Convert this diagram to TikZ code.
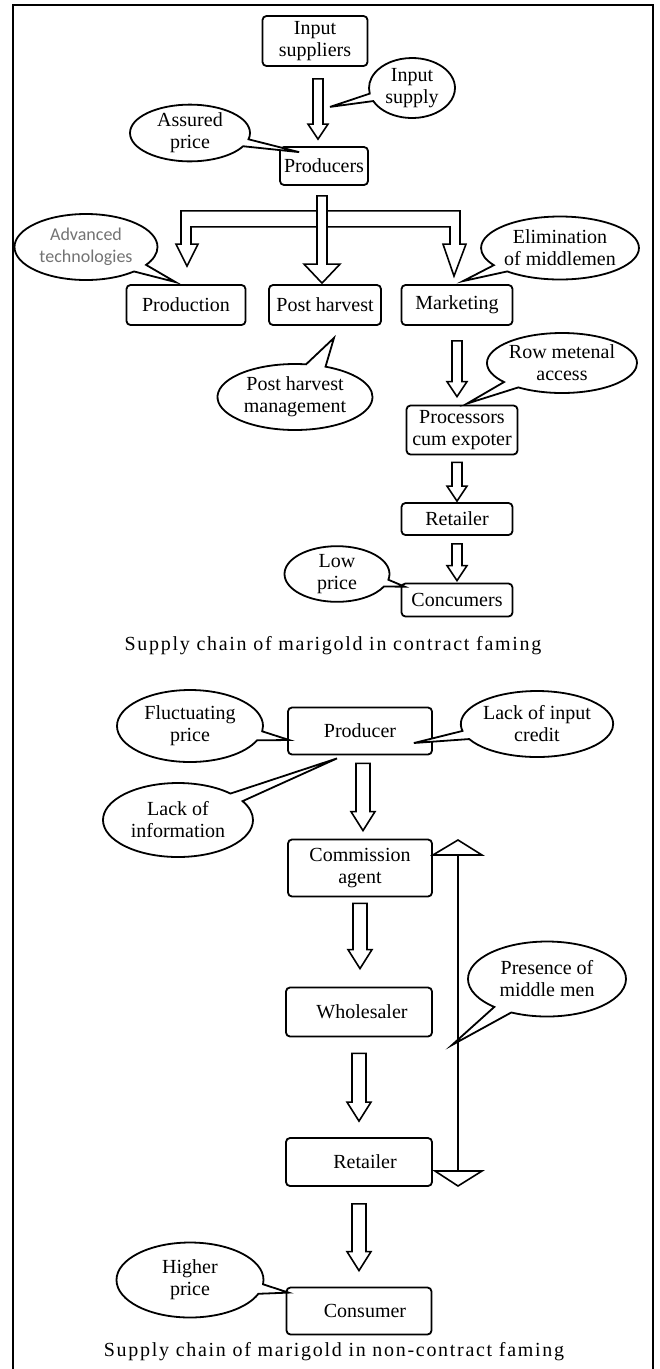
\documentclass[tikz,border=0pt]{standalone}
\usepackage{fontspec}
\setmainfont{Liberation Serif}
\newfontfamily\techfont{Carlito}
\newfontfamily\capfont[LetterSpace=8.5]{Liberation Serif}
\usetikzlibrary{calc}
\usetikzlibrary{shapes}
\usetikzlibrary{shapes.callouts}
\usetikzlibrary{positioning}

\tikzset{
  stage/.style={draw, line width=1.8pt, rounded corners=4pt, fill=white, inner sep=0pt,
    align=center, font=\fontsize{20}{22}\selectfont},
  remark/.style={ellipse callout, draw, line width=1.8pt, fill=white, inner sep=0pt,
    align=center, font=\fontsize{20}{22}\selectfont},
  flowarr/.style={draw, line width=1.6pt, fill=white, line join=miter},
  caption/.style={font=\capfont\fontsize{20}{22}\selectfont}
}

\def\shafthw{5}
\def\headhw{10}
\def\headlen{15}
\newcommand{\hollowarrow}[5][0]{%
  \draw[flowarr] let \p1=($(#2.south)+(#1pt,0)$), \p2=($(#3.north)+(#1pt,0)$) in
    (\x1-\shafthw pt,\y1-#4pt) -- (\x1-\shafthw pt,\y2+#5pt+\headlen pt)
    -- (\x1-\headhw pt,\y2+#5pt+\headlen pt) -- (\x1,\y2+#5pt)
    -- (\x1+\headhw pt,\y2+#5pt+\headlen pt) -- (\x1+\shafthw pt,\y2+#5pt+\headlen pt)
    -- (\x1+\shafthw pt,\y1-#4pt) -- cycle;}

\begin{document}
\begin{tikzpicture}[x=1pt,y=-1pt]
  \useasboundingbox (0,0) rectangle (660,1369);
  \draw[line width=2.5pt] (13,1369) -- (13,5) -- (653,5) -- (653,1369);

  % contract farming
  \node[stage, minimum width=105, minimum height=50] (inpsup) at (315,41) {Input\\suppliers};
  \node[stage, minimum width=88, minimum height=38] (prod) at (324,166) {Producers};
  \node[stage, minimum width=119, minimum height=40] (prodn) at (186,305) {Production};
  \node[stage, minimum width=112, minimum height=40] (post) at (325,305) {Post harvest};
  \node[stage, minimum width=111, minimum height=40] (mkt) at (457,305) {Marketing};
  \node[stage, minimum width=111, minimum height=49] (proc) at (462,430) {Processors\\cum expoter};
  \node[stage, minimum width=111, minimum height=32] (ret1) at (457,519) {Retailer};
  \node[stage, minimum width=111, minimum height=33] (cons1) at (457,600) {Concumers};

  \hollowarrow[3]{inpsup}{prod}{12}{7}
  \hollowarrow{mkt}{proc}{15}{8}
  \hollowarrow[-5]{proc}{ret1}{7}{1}
  \hollowarrow{ret1}{cons1}{8}{2}

  \draw[flowarr] let \p0=(prod.south), \p1=(prodn.north), \p3=(mkt.north) in
    (\x1-5pt,\y1+40pt) -- (\x1-5pt,\y0-25pt) -- (\x3+3pt,\y0-25pt) -- (\x3+3pt,\y3+40pt)
    -- (\x3+9pt,\y3+40pt) -- (\x3-3pt,\y3+8pt) -- (\x3-14pt,\y3+40pt) -- (\x3-7pt,\y3+40pt)
    -- (\x3-7pt,\y0-41pt) -- (\x1+5pt,\y0-41pt) -- (\x1+5pt,\y1+40pt) -- (\x1+12pt,\y1+40pt)
    -- (\x1+1pt,\y1+18pt) -- (\x1-10pt,\y1+40pt) -- cycle;
  \draw[flowarr] let \p0=(prod.south), \p2=(post.north) in
    (\x2-8pt,\y0-10pt) -- (\x2-8pt,\y2+20pt) -- (\x2-21pt,\y2+20pt) -- (\x2-3pt,\y2+1pt)
    -- (\x2+15pt,\y2+20pt) -- (\x2+2pt,\y2+20pt) -- (\x2+2pt,\y0-10pt) -- cycle;

  \node[remark, minimum width=86, minimum height=60,
    callout absolute pointer={($(inpsup.south)+(15,40)$)}] (inpsupply) at (412,88) {Input\\supply};
  \node[remark, minimum width=120, minimum height=54,
    callout absolute pointer={($(prod.north west)+(20,6)$)}] (assured) at (190,133) {Assured\\price};
  \node[remark, minimum width=143, minimum height=66, text=black!55,
    font=\techfont\fontsize{18}{22}\selectfont,
    callout absolute pointer={($(prodn.north west)+(50,-2)$)}] (advtech) at (86,247) {Advanced\\technologies};
  \node[remark, minimum width=150, minimum height=63,
    callout absolute pointer={($(mkt.north)+(6,-3)$)}] (elim) at (560,248) {Elimination\\of middlemen};
  \node[remark, minimum width=155, minimum height=66,
    callout absolute pointer={($(post.south)+(9,12)$)}] (phm) at (295,397) {Post harvest\\management};
  \node[remark, minimum width=147, minimum height=60,
    callout absolute pointer={($(proc.north)+(5,-1)$)}] (rowmat) at (562,363) {Row metenal\\access};
  \node[remark, minimum width=105, minimum height=52,
    callout absolute pointer={($(cons1.north west)+(4,4)$)}] (lowprice) at (337,574) {Low\\price};

  \node[caption] (cap1) at (333,646) {Supply chain of marigold in contract faming};

  % non-contract farming
  \node[stage, minimum width=144, minimum height=47] (producer) at (360,731) {Producer};
  \node[stage, minimum width=144, minimum height=57] (comm) at (360,868) {Commission\\agent};
  \node[stage, minimum width=146, minimum height=49] (whole) at (359,1012) {\hspace{6pt}Wholesaler};
  \node[stage, minimum width=146, minimum height=48] (ret2) at (359,1162) {\hspace{12pt}Retailer};
  \node[stage, minimum width=145, minimum height=47] (consumer) at (359,1311) {\hspace{12pt}Consumer};

  \def\shafthw{7}
  \def\headhw{12}
  \def\headlen{19}
  \hollowarrow[3]{producer}{comm}{8}{8}
  \hollowarrow{comm}{whole}{6}{18}
  \hollowarrow{whole}{ret2}{16}{16}
  \hollowarrow{ret2}{consumer}{17}{16}

  \coordinate (mtop) at (458,855);
  \coordinate (mbot) at (458,1171);
  \draw[line width=1.6pt] (mtop) -- (mbot);
  \draw[line width=1.6pt] (comm.east |- mtop) -- ($(mtop)+(0,-15)$) -- ($(mtop)+(24,0)$) -- cycle;
  \draw[line width=1.6pt] ($(mbot)+(-23,0)$) -- ($(mbot)+(0,15)$) -- ($(mbot)+(24,0)$) -- cycle;

  \node[remark, minimum width=146, minimum height=72,
    callout absolute pointer={($(producer.west)+(2,9)$)}] (fluct) at (190,726) {Fluctuating\\price};
  \node[remark, minimum width=150, minimum height=66,
    callout absolute pointer={($(producer.east)+(-19,12)$)}] (lackin) at (537,724) {Lack of input\\credit};
  \node[remark, minimum width=150, minimum height=74,
    callout absolute pointer={($(producer.south)+(-23,3)$)}] (lackinfo) at (178,820) {Lack of\\information};
  \node[remark, minimum width=158, minimum height=75,
    callout absolute pointer={($(mtop)+(-6,190)$)}] (presence) at (547,979) {Presence of\\middle men};
  \node[remark, minimum width=147, minimum height=75,
    callout absolute pointer={($(consumer.north west)+(3,6)$)}] (higher) at (190,1280) {Higher\\price};

  \node[caption] (cap2) at (334,1352) {Supply chain of marigold in non-contract faming};
\end{tikzpicture}
\end{document}
